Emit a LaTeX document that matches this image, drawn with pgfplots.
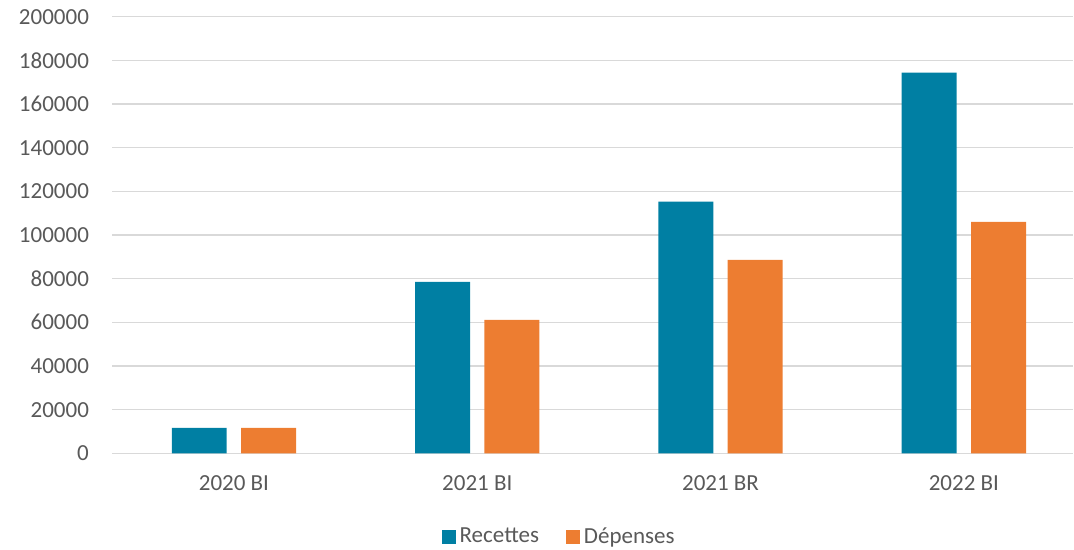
\documentclass[border=0pt]{standalone}
\usepackage{fontspec}
\setmainfont{Carlito}
\usepackage{pgfplots}
\pgfplotsset{compat=1.18}
\definecolor{rec}{HTML}{007FA3}
\definecolor{dep}{HTML}{ED7D31}
\definecolor{grille}{HTML}{D9D9D9}
\definecolor{texte}{HTML}{595959}
\begin{document}
\fontsize{11.5pt}{13.8pt}\selectfont
\begin{tikzpicture}
\useasboundingbox (0pt,0pt) rectangle (537pt,275pt);
\begin{axis}[
    at={(56.15pt,48.35pt)}, anchor=south west,
    scale only axis,
    width=480.5pt, height=218.3pt,
    xmin=-0.5, xmax=3.45,
    ymin=0, ymax=200000,
    xtick={0,1,2,3},
    xticklabels={2020 BI, 2021 BI, 2021 BR, 2022 BI},
    ytick={0,20000,...,200000},
    scaled y ticks=false,
    yticklabel={\pgfmathparse{int(\tick)}\pgfmathresult},
    axis line style={draw=none},
    major tick length=0pt,
    ymajorgrids=true,
    grid style={grille, line width=0.65pt},
    yticklabel style={text=texte, anchor=east, inner sep=0pt, xshift=-11.5pt},
    xticklabel style={text=texte, anchor=north, inner sep=0pt, yshift=-11pt},
    legend style={at={(0.466,-0.1917)}, anchor=center, draw=none, fill=none,
        inner sep=0pt, text=texte,
        /tikz/every even column/.append style={column sep=11.5pt}},
    legend columns=2,
]
\addplot[ybar, bar width=0.226, bar shift=-0.1426, fill=rec, draw=none,
    legend image code/.code={\fill[rec] (0pt,-3.5pt) rectangle (7pt,3.5pt);}]
    coordinates {(0,11700) (1,78500) (2,115300) (3,174400)};
\addlegendentry{Recettes}
\addplot[ybar, bar width=0.226, bar shift=0.1426, fill=dep, draw=none,
    legend image code/.code={\fill[dep] (0pt,-3.5pt) rectangle (7pt,3.5pt);}]
    coordinates {(0,11600) (1,61100) (2,88600) (3,106000)};
\addlegendentry{Dépenses}
\end{axis}
\end{tikzpicture}
\end{document}
